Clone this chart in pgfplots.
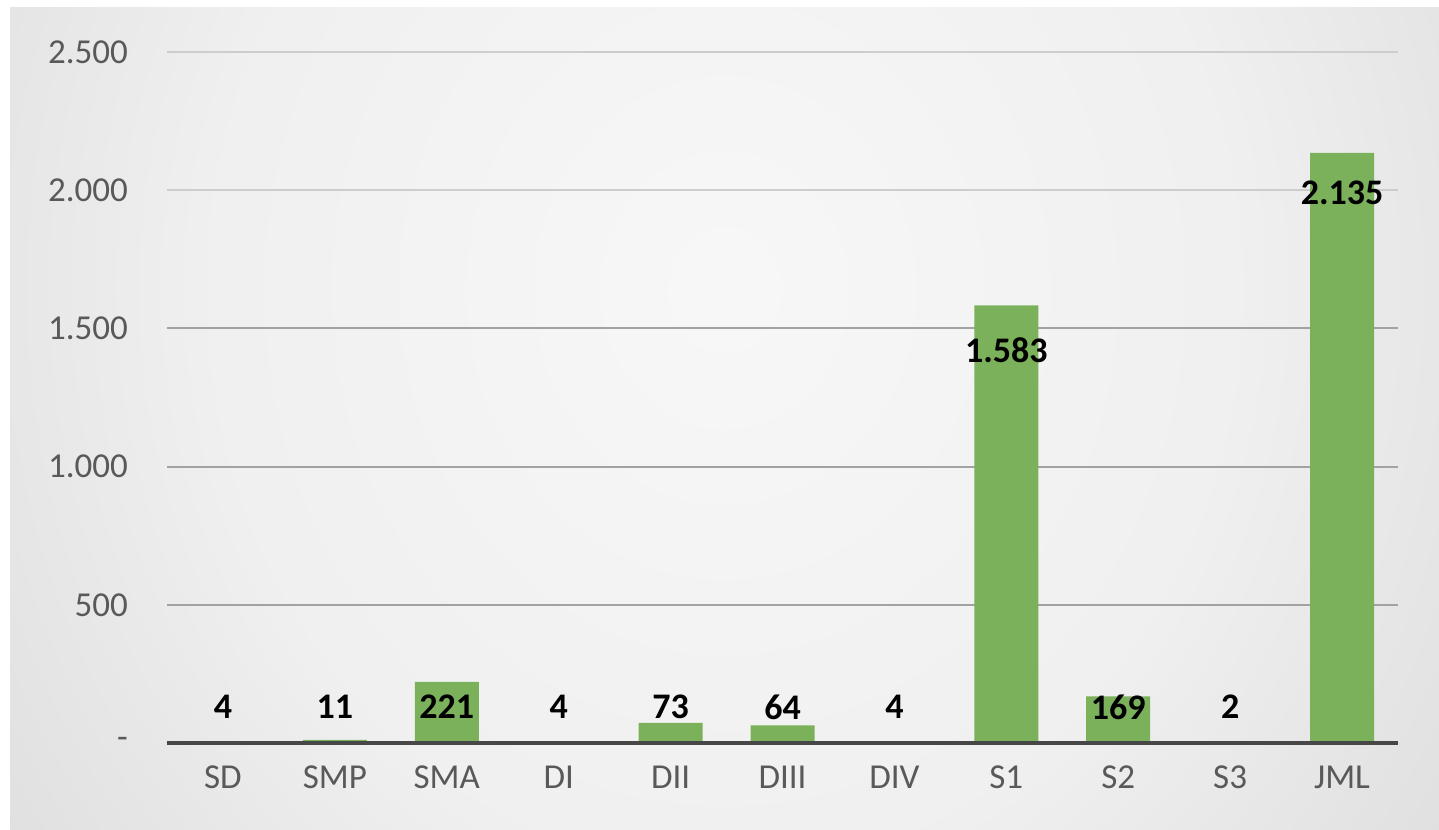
\documentclass[border=0pt]{standalone}
\usepackage{pgfplots}
\pgfplotsset{compat=1.18}
\usepackage{fontspec}
\setmainfont{Carlito}
\definecolor{barg}{HTML}{7BB15B}
\definecolor{tickgray}{HTML}{595959}
\definecolor{gridgray}{HTML}{A2A2A2}
\definecolor{gridlight}{HTML}{CDCDCD}

\pgfdeclareradialshading{chartbg}{\pgfpoint{0bp}{0bp}}{%
  color(0bp)=(white!97!black);
  color(18bp)=(white!94!black);
  color(34bp)=(white!86!black);
  color(50bp)=(white!78!black);
  color(72bp)=(white!72!black)}

\pgfplotstableread{
x y
0 4
1 11
2 221
3 4
4 73
5 64
6 4
7 1583
8 169
9 2
10 2135
}\counts

% label positions (data units) and the text shown
\pgfplotstableread{
x ypos lab
0 130 4
1 130 11
2 130 221
3 130 4
4 130 73
5 130 64
6 130 4
7 1422 1.583
8 130 169
9 130 2
10 1990 2.135
}\labels

\begin{document}
\begin{tikzpicture}
  \useasboundingbox (0,0) rectangle (719.5bp,415bp);
  \fill[white] (0,0) rectangle (719.5bp,415bp);
  \begin{scope}
    \clip (5bp,0) rectangle (719.5bp,411bp);
    \shade[shading=chartbg] (5bp,-130bp) rectangle (719.5bp,670bp);
  \end{scope}
  \begin{axis}[
    at={(83.5bp,43.5bp)}, anchor=south west,
    scale only axis, width=615.5bp, height=345.5bp,
    xmin=-0.5, xmax=10.5, ymin=0, ymax=2500,
    axis line style={draw=none},
    axis x line*=bottom, axis y line*=left,
    tick style={draw=none},
    xtick={0,...,10},
    xticklabels={SD,SMP,SMA,DI,DII,DIII,DIV,S1,S2,S3,JML},
    ytick={0,500,1000,1500},
    yticklabels={-,500,1.000,1.500},
    extra y ticks={2000,2500},
    extra y tick labels={2.000,2.500},
    extra y tick style={grid style={gridlight, line width=1bp}},
    ymajorgrids, grid style={gridgray, line width=1bp},
    ticklabel style={font=\fontsize{17.5bp}{20bp}\selectfont, text=tickgray},
    yticklabel style={xshift=-16bp},
    xticklabel style={yshift=-8bp},
    clip=false,
  ]
    \addplot[ybar, bar width=32bp, fill=barg, draw=none] table[x=x, y=y] {\counts};
    \draw[line width=2.2bp, black!72] (axis cs:-0.5,0) -- (axis cs:10.5,0);
    \addplot[draw=none, mark=none, nodes near coords, point meta=explicit symbolic,
      every node near coord/.append style={anchor=center, yshift=0pt,
        font=\bfseries\fontsize{18bp}{20bp}\selectfont, text=black}]
      table[x=x, y=ypos, meta=lab] {\labels};
  \end{axis}
\end{tikzpicture}
\end{document}
